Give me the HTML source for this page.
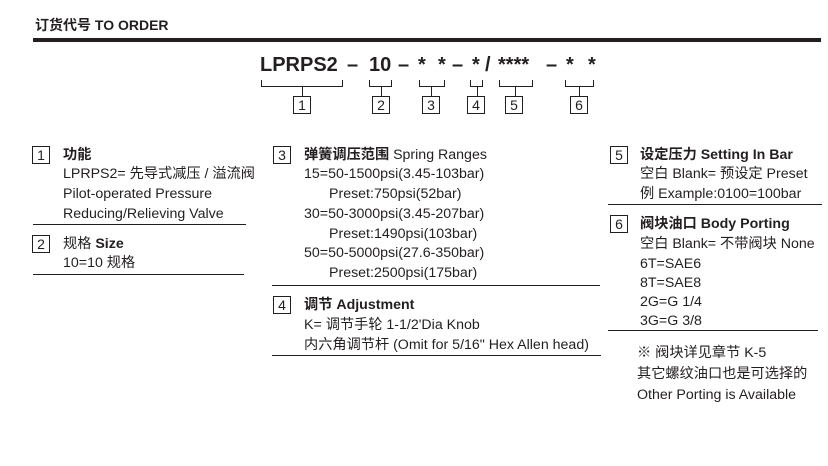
<!DOCTYPE html>
<html><head><meta charset="utf-8"><style>
*{margin:0;padding:0;box-sizing:border-box}
body{width:828px;height:466px;background:#fff;position:relative;overflow:hidden;font-family:"Liberation Sans","Noto Sans CJK SC",sans-serif;color:#231f20}
.a{position:absolute;white-space:nowrap}
.t{font-size:14.2px;line-height:16px}
.b{font-weight:bold}
.box{position:absolute;border:1px solid #231f20;width:18px;height:18px;font-size:14px;line-height:16px;text-align:center}
.ln{position:absolute;height:1px;background:#231f20}
.vl{position:absolute;width:1px;background:#231f20}
.c{font-size:20px;font-weight:bold;position:absolute;top:54px;line-height:22px}
</style></head><body>
<div class="a b" style="left:35px;top:17px;font-size:14px;line-height:16px">订货代号 TO ORDER</div>
<div class="ln" style="left:33px;top:38px;width:788px;height:4px"></div>

<div class="c" style="left:260px">LPRPS2</div>
<div class="c" style="left:347px">–</div>
<div class="c" style="left:369px">10</div>
<div class="c" style="left:398px">–</div>
<div class="c" style="left:418px">*</div>
<div class="c" style="left:438px">*</div>
<div class="c" style="left:452px">–</div>
<div class="c" style="left:472px">*</div>
<div class="c" style="left:485px">/</div>
<div class="c" style="left:498px">****</div>
<div class="c" style="left:546px">–</div>
<div class="c" style="left:566px">*</div>
<div class="c" style="left:588px">*</div>

<div class="ln" style="left:261px;top:86px;width:82px"></div><div class="vl" style="left:261px;top:80px;height:7px"></div><div class="vl" style="left:342px;top:80px;height:7px"></div><div class="vl" style="left:302px;top:86px;height:10px"></div><div class="box" style="left:293px;top:96px">1</div>
<div class="ln" style="left:369px;top:86px;width:23px"></div><div class="vl" style="left:369px;top:80px;height:7px"></div><div class="vl" style="left:391px;top:80px;height:7px"></div><div class="vl" style="left:381px;top:86px;height:10px"></div><div class="box" style="left:372px;top:96px">2</div>
<div class="ln" style="left:419px;top:86px;width:26px"></div><div class="vl" style="left:419px;top:80px;height:7px"></div><div class="vl" style="left:444px;top:80px;height:7px"></div><div class="vl" style="left:431px;top:86px;height:10px"></div><div class="box" style="left:422px;top:96px">3</div>
<div class="ln" style="left:470px;top:86px;width:13px"></div><div class="vl" style="left:470px;top:80px;height:7px"></div><div class="vl" style="left:482px;top:80px;height:7px"></div><div class="vl" style="left:477px;top:86px;height:10px"></div><div class="box" style="left:467px;top:96px">4</div>
<div class="ln" style="left:499px;top:86px;width:34px"></div><div class="vl" style="left:499px;top:80px;height:7px"></div><div class="vl" style="left:532px;top:80px;height:7px"></div><div class="vl" style="left:515px;top:86px;height:10px"></div><div class="box" style="left:505px;top:96px">5</div>
<div class="ln" style="left:565px;top:86px;width:29px"></div><div class="vl" style="left:565px;top:80px;height:7px"></div><div class="vl" style="left:593px;top:80px;height:7px"></div><div class="vl" style="left:579px;top:86px;height:10px"></div><div class="box" style="left:570px;top:96px">6</div>

<div class="box" style="left:32px;top:146px">1</div>
<div class="a t b" style="left:63px;top:147px">功能</div>
<div class="a t" style="left:63px;top:166px">LPRPS2= 先导式减压 / 溢流阀</div>
<div class="a t" style="left:63px;top:186px">Pilot-operated Pressure</div>
<div class="a t" style="left:63px;top:206px">Reducing/Relieving Valve</div>
<div class="ln" style="left:33px;top:224px;width:213px"></div>
<div class="box" style="left:32px;top:235px">2</div>
<div class="a t" style="left:63px;top:236px">规格 <b>Size</b></div>
<div class="a t" style="left:63px;top:255px">10=10 规格</div>
<div class="ln" style="left:33px;top:274px;width:211px"></div>

<div class="box" style="left:273px;top:146px">3</div>
<div class="a t" style="left:304px;top:147px"><b>弹簧调压范围</b> Spring Ranges</div>
<div class="a t" style="left:304px;top:166px">15=50-1500psi(3.45-103bar)</div>
<div class="a t" style="left:329px;top:186px">Preset:750psi(52bar)</div>
<div class="a t" style="left:304px;top:206px">30=50-3000psi(3.45-207bar)</div>
<div class="a t" style="left:329px;top:226px">Preset:1490psi(103bar)</div>
<div class="a t" style="left:304px;top:245px">50=50-5000psi(27.6-350bar)</div>
<div class="a t" style="left:329px;top:265px">Preset:2500psi(175bar)</div>
<div class="ln" style="left:272px;top:285px;width:328px"></div>
<div class="box" style="left:273px;top:296px">4</div>
<div class="a t b" style="left:304px;top:297px">调节 Adjustment</div>
<div class="a t" style="left:304px;top:317px">K= 调节手轮 1-1/2'Dia Knob</div>
<div class="a t" style="left:304px;top:337px">内六角调节杆 (Omit for 5/16" Hex Allen head)</div>
<div class="ln" style="left:272px;top:355px;width:329px"></div>

<div class="box" style="left:610px;top:146px">5</div>
<div class="a t b" style="left:640px;top:147px">设定压力 Setting In Bar</div>
<div class="a t" style="left:640px;top:166px">空白 Blank= 预设定 Preset</div>
<div class="a t" style="left:640px;top:186px">例 Example:0100=100bar</div>
<div class="ln" style="left:608px;top:204px;width:214px"></div>
<div class="box" style="left:610px;top:215px">6</div>
<div class="a t b" style="left:640px;top:216px">阀块油口 Body Porting</div>
<div class="a t" style="left:640px;top:236px">空白 Blank= 不带阀块 None</div>
<div class="a t" style="left:640px;top:256px">6T=SAE6</div>
<div class="a t" style="left:640px;top:275px">8T=SAE8</div>
<div class="a t" style="left:640px;top:294px">2G=G 1/4</div>
<div class="a t" style="left:640px;top:313px">3G=G 3/8</div>
<div class="ln" style="left:608px;top:330px;width:210px"></div>
<div class="a t" style="left:637px;top:345px">※ 阀块详见章节 K-5</div>
<div class="a t" style="left:637px;top:366px">其它螺纹油口也是可选择的</div>
<div class="a t" style="left:637px;top:387px">Other Porting is Available</div>
</body></html>
